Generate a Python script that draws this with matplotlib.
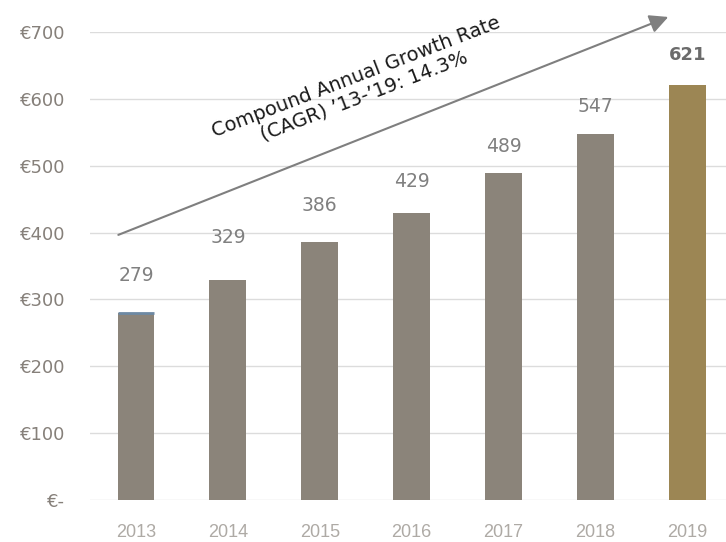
import matplotlib
matplotlib.use("Agg")
import matplotlib.pyplot as plt

years = ["2013", "2014", "2015", "2016", "2017", "2018", "2019"]
revenue = [279, 329, 386, 429, 489, 547, 621]
y_ticks = [0, 100, 200, 300, 400, 500, 600, 700]
y_tick_labels = ["€-", "€100", "€200", "€300", "€400", "€500", "€600", "€700"]
cagr_text = "Compound Annual Growth Rate\n(CAGR) ’13-’19: 14.3%"

# gap (points) between each bar top and its value label
label_gap = [20.5, 24, 19.5, 16, 12.5, 13, 15]

plt.rcParams["font.family"] = ["DejaVu Sans"]

GREY_BAR = "#8b847a"
GOLD_BAR = "#9c8654"

fig = plt.figure(figsize=(7.26, 5.42), dpi=100)
ax = fig.add_axes([0.124, 0.0775, 0.876, 0.8635])

x = list(range(len(years)))
colors = [GREY_BAR] * (len(years) - 1) + [GOLD_BAR]
bar_w = 0.40
ax.bar(x, revenue, width=bar_w, color=colors, zorder=2)
# thin blue cap on the first bar
ax.hlines(revenue[0], x[0] - bar_w / 2, x[0] + bar_w / 2, color="#6d89a3", lw=2, zorder=3)

for i, v in enumerate(revenue):
    last = i == len(revenue) - 1
    ax.annotate(str(v), (x[i], v), xytext=(0, label_gap[i]), textcoords="offset points",
                ha="center", va="bottom", fontsize=13 if last else 13.5,
                color="#6b6b6b" if last else "#808080",
                fontweight="bold" if last else "normal")

ax.set_xlim(-0.5, 6.42)
ax.set_ylim(0, 700)
ax.set_yticks(y_ticks)
ax.set_yticklabels(y_tick_labels)
ax.set_xticks(x)
ax.set_xticklabels(years, family="Liberation Sans")
ax.tick_params(axis="y", length=0, pad=18, labelsize=13, labelcolor="#86807a")
ax.tick_params(axis="x", length=0, pad=17.5, labelsize=13, labelcolor="#aeaaa5")
for s in ax.spines.values():
    s.set_visible(False)
ax.grid(axis="y", color="#dcdcdc", lw=1, zorder=0)
ax.set_axisbelow(True)

# growth arrow and CAGR note
ax.annotate("", xy=(5.82, 724), xytext=(-0.22, 395), annotation_clip=False,
            arrowprops=dict(arrowstyle="-|>", color="#7f7f7f", lw=1.5, mutation_scale=28))
ax.text(2.44, 618, cagr_text, rotation=21, rotation_mode="anchor",
        ha="center", va="center", fontsize=14, color="#1a1a1a",
        linespacing=1.1, multialignment="center")

fig.savefig("out.png", dpi=100)
